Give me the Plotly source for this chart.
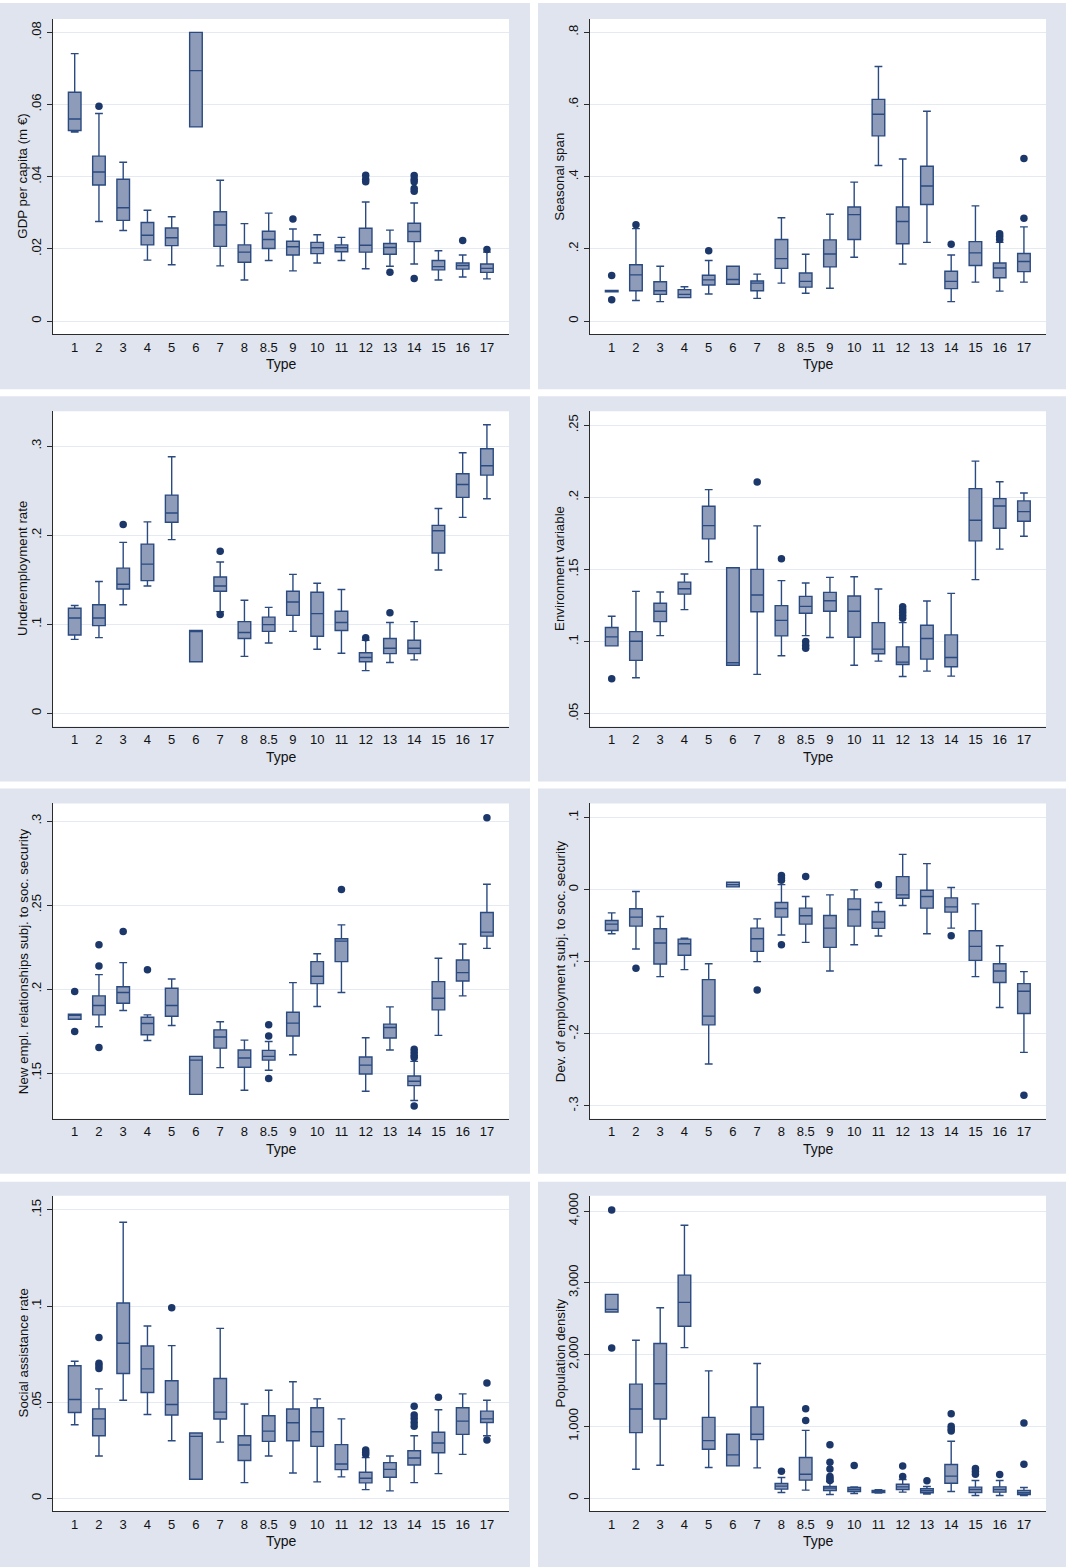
import plotly.graph_objects as go

# ---------------- data ----------------
types = ["1", "2", "3", "4", "5", "6", "7", "8", "8.5", "9",
         "10", "11", "12", "13", "14", "15", "16", "17"]

# GDP per capita (m €)
gdp_lo  = [0.0524, 0.0276, 0.0251, 0.0169, 0.0156, 0.0538, 0.0153, 0.0114, 0.0168, 0.0139, 0.0161, 0.0168, 0.0145, 0.0152, 0.0158, 0.0114, 0.0122, 0.0117]
gdp_q1  = [0.0528, 0.0377, 0.0279, 0.0211, 0.0209, 0.0538, 0.0207, 0.0163, 0.0201, 0.0183, 0.0187, 0.0192, 0.0191, 0.0185, 0.0220, 0.0142, 0.0144, 0.0135]
gdp_med = [0.0560, 0.0413, 0.0314, 0.0238, 0.0231, 0.0694, 0.0266, 0.0191, 0.0226, 0.0206, 0.0203, 0.0203, 0.0210, 0.0204, 0.0248, 0.0151, 0.0154, 0.0146]
gdp_q3  = [0.0634, 0.0457, 0.0393, 0.0273, 0.0258, 0.0800, 0.0303, 0.0211, 0.0249, 0.0221, 0.0218, 0.0211, 0.0257, 0.0215, 0.0271, 0.0168, 0.0161, 0.0158]
gdp_hi  = [0.0741, 0.0575, 0.0440, 0.0307, 0.0289, 0.0800, 0.0390, 0.0270, 0.0299, 0.0255, 0.0239, 0.0232, 0.0330, 0.0252, 0.0327, 0.0195, 0.0183, 0.0191]
gdp_out = [[], [0.0595], [], [], [], [], [], [], [], [0.0283], [], [],
           [0.0404, 0.0393, 0.0386], [0.0135],
           [0.0403, 0.0393, 0.0386, 0.0367, 0.0360, 0.0118], [], [0.0223], [0.0198]]

# Seasonal span
sea_lo  = [0.081, 0.057, 0.054, 0.065, 0.075, 0.102, 0.063, 0.105, 0.077, 0.091, 0.177, 0.431, 0.158, 0.218, 0.054, 0.108, 0.083, 0.108]
sea_q1  = [0.081, 0.084, 0.074, 0.065, 0.100, 0.102, 0.084, 0.146, 0.094, 0.150, 0.226, 0.513, 0.214, 0.323, 0.090, 0.154, 0.120, 0.137]
sea_med = [0.083, 0.128, 0.084, 0.074, 0.114, 0.115, 0.105, 0.173, 0.110, 0.186, 0.295, 0.573, 0.276, 0.374, 0.110, 0.189, 0.147, 0.165]
sea_q3  = [0.085, 0.156, 0.109, 0.087, 0.127, 0.152, 0.111, 0.226, 0.133, 0.225, 0.316, 0.614, 0.316, 0.429, 0.138, 0.220, 0.161, 0.187]
sea_hi  = [0.085, 0.256, 0.152, 0.095, 0.168, 0.152, 0.130, 0.286, 0.185, 0.296, 0.385, 0.705, 0.449, 0.581, 0.183, 0.319, 0.218, 0.261]
sea_out = [[0.126, 0.059], [0.267], [], [], [0.195], [], [], [], [], [], [], [], [], [],
           [0.213], [], [0.242, 0.235, 0.226], [0.450, 0.285]]

# Underemployment rate
und_lo  = [0.083, 0.085, 0.122, 0.143, 0.195, 0.058, 0.114, 0.064, 0.079, 0.092, 0.072, 0.0675, 0.048, 0.057, 0.060, 0.161, 0.220, 0.241]
und_q1  = [0.088, 0.0985, 0.1396, 0.149, 0.2146, 0.058, 0.137, 0.084, 0.092, 0.110, 0.0866, 0.093, 0.058, 0.067, 0.067, 0.180, 0.2425, 0.2675]
und_med = [0.107, 0.107, 0.145, 0.1675, 0.225, 0.092, 0.143, 0.0907, 0.0996, 0.125, 0.112, 0.102, 0.0627, 0.073, 0.073, 0.205, 0.257, 0.278]
und_q3  = [0.118, 0.122, 0.163, 0.190, 0.245, 0.093, 0.153, 0.103, 0.108, 0.137, 0.136, 0.1146, 0.068, 0.084, 0.082, 0.211, 0.269, 0.297]
und_hi  = [0.121, 0.148, 0.192, 0.215, 0.288, 0.093, 0.170, 0.127, 0.119, 0.156, 0.146, 0.139, 0.082, 0.102, 0.103, 0.230, 0.2925, 0.324]
und_out = [[], [], [0.212], [], [], [], [0.182, 0.111], [], [], [], [], [],
           [0.085], [0.113], [], [], [], []]

# Environment variable
env_lo  = [0.097, 0.0749, 0.1041, 0.1221, 0.1553, 0.0836, 0.0772, 0.0901, 0.1041, 0.1028, 0.0836, 0.0864, 0.0758, 0.0795, 0.076, 0.1429, 0.1641, 0.173]
env_q1  = [0.097, 0.0869, 0.1138, 0.1329, 0.1712, 0.0836, 0.1207, 0.1039, 0.1196, 0.121, 0.103, 0.0915, 0.0841, 0.0878, 0.0825, 0.1698, 0.1786, 0.1834]
env_med = [0.1032, 0.1002, 0.121, 0.1366, 0.1804, 0.0853, 0.1323, 0.1147, 0.1244, 0.1283, 0.121, 0.0947, 0.0857, 0.1021, 0.0889, 0.1841, 0.194, 0.1901]
env_q3  = [0.1097, 0.1069, 0.1265, 0.1412, 0.1938, 0.1512, 0.150, 0.1249, 0.1313, 0.1341, 0.1316, 0.1131, 0.0963, 0.1113, 0.1046, 0.206, 0.1991, 0.1975]
env_hi  = [0.1175, 0.1348, 0.1343, 0.1468, 0.2053, 0.1512, 0.1802, 0.1422, 0.1406, 0.1445, 0.1449, 0.1364, 0.1131, 0.1281, 0.1334, 0.2251, 0.2108, 0.203]
env_out = [[0.0742], [], [], [], [], [], [0.2106], [0.1574], [0.100, 0.0975, 0.0954], [], [], [],
           [0.1242, 0.1221, 0.1203, 0.1182, 0.1161], [], [], [], [], []]

# New empl. relationships subj. to soc. security
new_lo  = [0.182, 0.1775, 0.1872, 0.1694, 0.1783, 0.1373, 0.1532, 0.1397, 0.1516, 0.1609, 0.1896, 0.1979, 0.1391, 0.1637, 0.1336, 0.1724, 0.1959, 0.2242]
new_q1  = [0.182, 0.1846, 0.1915, 0.1728, 0.1838, 0.1373, 0.1648, 0.1534, 0.1577, 0.172, 0.2032, 0.2163, 0.1494, 0.1708, 0.1425, 0.1876, 0.2048, 0.2315]
new_med = [0.1845, 0.1902, 0.1979, 0.1795, 0.1902, 0.1577, 0.1714, 0.1589, 0.1599, 0.1797, 0.2076, 0.2285, 0.1547, 0.1771, 0.1451, 0.1945, 0.2098, 0.2339]
new_q3  = [0.185, 0.1959, 0.2014, 0.1832, 0.2005, 0.1599, 0.1757, 0.1637, 0.1635, 0.1862, 0.2163, 0.2299, 0.1595, 0.1791, 0.1482, 0.2044, 0.2173, 0.2456]
new_hi  = [0.185, 0.2086, 0.2157, 0.1846, 0.206, 0.1599, 0.1805, 0.1696, 0.1688, 0.2038, 0.221, 0.2382, 0.171, 0.1894, 0.1569, 0.2183, 0.2268, 0.2624]
new_out = [[0.1985, 0.1747], [0.2264, 0.2137, 0.1652], [0.2343], [0.2115], [], [], [], [],
           [0.1787, 0.172, 0.1468], [], [], [0.2592], [], [],
           [0.1642, 0.1623, 0.1605, 0.1593, 0.1304], [], [], [0.302]]

# Dev. of employment subj. to soc. security
dev_lo  = [-0.0613, -0.0825, -0.1207, -0.1111, -0.2419, 0.0037, -0.1, -0.0631, -0.0733, -0.1129, -0.0765, -0.0645, -0.0221, -0.0613, -0.0535, -0.1207, -0.1636, -0.2258]
dev_q1  = [-0.0567, -0.0507, -0.1032, -0.0912, -0.1876, 0.0037, -0.0857, -0.0382, -0.0479, -0.0802, -0.0507, -0.0539, -0.012, -0.0258, -0.0313, -0.0982, -0.129, -0.1719]
dev_med = [-0.0479, -0.0382, -0.0742, -0.0751, -0.1756, 0.0069, -0.0682, -0.0263, -0.0364, -0.0535, -0.0276, -0.0452, -0.0074, -0.0097, -0.024, -0.0788, -0.1129, -0.141]
dev_q3  = [-0.0429, -0.0267, -0.0544, -0.0687, -0.1249, 0.0101, -0.0535, -0.018, -0.0258, -0.0359, -0.0129, -0.0304, 0.018, -0.0009, -0.0115, -0.0571, -0.1028, -0.1304]
dev_hi  = [-0.0323, -0.0028, -0.0373, -0.0673, -0.1028, 0.0101, -0.0406, 0.0069, -0.0097, -0.0074, -0.0005, -0.018, 0.0488, 0.0359, 0.0028, -0.0198, -0.0779, -0.1138]
dev_out = [[], [-0.1092], [], [], [], [], [-0.1392], [0.0194, 0.0161, 0.0129, -0.0765], [0.018],
           [], [], [0.0065], [], [], [-0.0641], [], [], [-0.2853]]

# Social assistance rate
soc_lo  = [0.0382, 0.022, 0.051, 0.0436, 0.0299, 0.0099, 0.0292, 0.0081, 0.022, 0.0131, 0.0085, 0.0111, 0.0045, 0.0038, 0.0081, 0.0128, 0.0228, 0.0325]
soc_q1  = [0.0446, 0.0325, 0.0649, 0.055, 0.0433, 0.0099, 0.0412, 0.0196, 0.0296, 0.0299, 0.027, 0.0149, 0.008, 0.0109, 0.0173, 0.0237, 0.0332, 0.0394]
soc_med = [0.0514, 0.0413, 0.0806, 0.0673, 0.0488, 0.0322, 0.0448, 0.0277, 0.0349, 0.0393, 0.0346, 0.0178, 0.0104, 0.015, 0.0209, 0.0287, 0.0401, 0.0413]
soc_q3  = [0.0689, 0.0465, 0.1016, 0.0792, 0.0611, 0.0339, 0.0623, 0.0325, 0.0429, 0.0464, 0.0471, 0.0279, 0.0135, 0.0185, 0.0247, 0.0343, 0.0471, 0.0453]
soc_hi  = [0.0713, 0.0569, 0.1436, 0.0896, 0.0794, 0.0339, 0.0884, 0.049, 0.0562, 0.0606, 0.0517, 0.0413, 0.0211, 0.022, 0.0325, 0.046, 0.0543, 0.051]
soc_out = [[], [0.0836, 0.0702, 0.0689, 0.0675], [], [], [0.0991], [], [], [], [], [], [], [],
           [0.0251, 0.0239, 0.0227], [], [0.0479, 0.0433, 0.0415, 0.0394, 0.0374], [0.0526], [],
           [0.0599, 0.0303]]

# Population density
pop_lo  = [2593, 403, 458, 2097, 426, 449, 421, 79, 111, 51, 65, 69, 83, 56, 93, 37, 37, 37]
pop_q1  = [2593, 912, 1102, 2394, 681, 449, 815, 125, 250, 106, 93, 79, 120, 74, 208, 79, 83, 51]
pop_med = [2630, 1241, 1593, 2727, 801, 602, 889, 167, 333, 139, 120, 93, 157, 102, 306, 120, 120, 74]
pop_q3  = [2838, 1588, 2153, 3106, 1125, 889, 1269, 204, 565, 162, 148, 106, 194, 130, 468, 153, 157, 106]
pop_hi  = [2838, 2199, 2653, 3801, 1773, 889, 1875, 287, 944, 231, 157, 116, 259, 162, 792, 245, 245, 148]
pop_out = [[4014, 2093], [], [], [], [], [], [], [375], [1245, 1083],
           [745, 500, 407, 301, 269, 245], [454], [], [449, 301], [241],
           [1176, 1000, 963, 935], [412, 370, 333], [329], [1046, 472]]

# axis titles, tick values and tick labels
y_titles = ["GDP per capita (m €)", "Seasonal span", "Underemployment rate",
            "Environment variable", "New empl. relationships subj. to soc. security",
            "Dev. of employment subj. to soc. security", "Social assistance rate",
            "Population density"]
x_title = "Type"
gdp_ticks = [0, 0.02, 0.04, 0.06, 0.08];   gdp_labels = ["0", ".02", ".04", ".06", ".08"]
sea_ticks = [0, 0.2, 0.4, 0.6, 0.8];       sea_labels = ["0", ".2", ".4", ".6", ".8"]
und_ticks = [0, 0.1, 0.2, 0.3];            und_labels = ["0", ".1", ".2", ".3"]
env_ticks = [0.05, 0.1, 0.15, 0.2, 0.25];  env_labels = [".05", ".1", ".15", ".2", ".25"]
new_ticks = [0.15, 0.2, 0.25, 0.3];        new_labels = [".15", ".2", ".25", ".3"]
dev_ticks = [-0.3, -0.2, -0.1, 0, 0.1];    dev_labels = ["-.3", "-.2", "-.1", "0", ".1"]
soc_ticks = [0, 0.05, 0.1, 0.15];          soc_labels = ["0", ".05", ".1", ".15"]
pop_ticks = [0, 1000, 2000, 3000, 4000];   pop_labels = ["0", "1,000", "2,000", "3,000", "4,000"]

# ---------------- styling / layout ----------------
FONT = "Liberation Sans, Arial, sans-serif"
PANEL_BG = "#DFE4EF"
GRID = "#E4E9F2"
AXIS = "#2b2b2b"
BOX_FILL = "#8E9CB9"
BOX_LINE = "#2A4A80"
DOT = "#1C3769"

W, H = 1066, 1567
def fx(p):
    return p / W
def fy(p):
    return 1 - p / H

col_px = [(53, 509), (590, 1046)]
row_top = [16, 409, 802, 1195]
plot_h = 316
bg_cols = [(0, 530), (538, 1066)]
bg_rows = [(0, 387), (394, 780), (787, 1173), (1181, 1567)]

panels = [
    (gdp_lo, gdp_q1, gdp_med, gdp_q3, gdp_hi, gdp_out, gdp_ticks, gdp_labels, [-0.00368, 0.0837]),
    (sea_lo, sea_q1, sea_med, sea_q3, sea_hi, sea_out, sea_ticks, sea_labels, [-0.0368, 0.8368]),
    (und_lo, und_q1, und_med, und_q3, und_hi, und_out, und_ticks, und_labels, [-0.0149, 0.3392]),
    (env_lo, env_q1, env_med, env_q3, env_hi, env_out, env_ticks, env_labels, [0.041, 0.2597]),
    (new_lo, new_q1, new_med, new_q3, new_hi, new_out, new_ticks, new_labels, [0.1227, 0.3105]),
    (dev_lo, dev_q1, dev_med, dev_q3, dev_hi, dev_out, dev_ticks, dev_labels, [-0.318, 0.1194]),
    (soc_lo, soc_q1, soc_med, soc_q3, soc_hi, soc_out, soc_ticks, soc_labels, [-0.0067, 0.1574]),
    (pop_lo, pop_q1, pop_med, pop_q3, pop_hi, pop_out, pop_ticks, pop_labels, [-181, 4213]),
]

fig = go.Figure()
layout = dict(width=W, height=H, margin=dict(l=0, r=0, t=0, b=0),
              paper_bgcolor="white", plot_bgcolor="rgba(0,0,0,0)",
              showlegend=False, font=dict(family=FONT, color="#111"),
              shapes=[], annotations=[])

for i, (lo, q1, med, q3, hi, out, tv, tt, yr) in enumerate(panels):
    r, c = divmod(i, 2)
    n = "" if i == 0 else str(i + 1)
    xa, ya = "x" + n, "y" + n
    x0, x1 = col_px[c]
    yt = row_top[r]
    yb = yt + plot_h

    # panel background + white plot region
    layout["shapes"].append(dict(type="rect", xref="paper", yref="paper", layer="below",
                                 x0=fx(bg_cols[c][0]), x1=fx(bg_cols[c][1]),
                                 y0=fy(bg_rows[r][1]), y1=fy(bg_rows[r][0]),
                                 fillcolor=PANEL_BG, line=dict(width=0)))
    layout["shapes"].append(dict(type="rect", xref="paper", yref="paper", layer="below",
                                 x0=fx(x0), x1=fx(x1), y0=fy(yb), y1=fy(yt),
                                 fillcolor="white", line=dict(width=0)))

    fig.add_trace(go.Box(x=types, q1=q1, median=med, q3=q3, lowerfence=lo, upperfence=hi,
                         width=0.52, whiskerwidth=0.62, boxpoints=False,
                         fillcolor=BOX_FILL, line=dict(color=BOX_LINE, width=1.4),
                         xaxis=xa, yaxis=ya, hoverinfo="skip"))
    ox, oy = [], []
    for t, vals in zip(types, out):
        for v in vals:
            ox.append(t)
            oy.append(v)
    fig.add_trace(go.Scatter(x=ox, y=oy, mode="markers", xaxis=xa, yaxis=ya,
                             marker=dict(color=DOT, size=7.5, line=dict(width=0)),
                             hoverinfo="skip"))

    layout["xaxis" + n] = dict(domain=[fx(x0), fx(x1)], anchor=ya, type="category",
                               categoryorder="array", categoryarray=types,
                               range=[-0.895, 17.91], showline=True, linecolor=AXIS,
                               linewidth=1, ticks="", showgrid=False, zeroline=False,
                               tickfont=dict(size=13, family=FONT, color="#111"),
                               ticklabelstandoff=1, fixedrange=True)
    layout["yaxis" + n] = dict(domain=[fy(yb), fy(yt)], anchor=xa, range=yr,
                               tickvals=tv, ticktext=tt, tickangle=-90,
                               ticks="outside", ticklen=5, tickcolor=AXIS, tickwidth=1,
                               showline=True, linecolor=AXIS, linewidth=1,
                               showgrid=True, gridcolor=GRID, gridwidth=1, zeroline=False,
                               tickfont=dict(size=13, family=FONT, color="#111"),
                               ticklabelstandoff=1, fixedrange=True)

    layout["annotations"].append(dict(text=y_titles[i], xref="paper", yref="paper",
                                      x=fx(x0 - 30), y=fy(yt + plot_h / 2), textangle=-90,
                                      xanchor="center", yanchor="middle", showarrow=False,
                                      font=dict(size=13.3, family=FONT, color="#111")))
    layout["annotations"].append(dict(text=x_title, xref="paper", yref="paper",
                                      x=fx((x0 + x1) / 2), y=fy(yt + 346),
                                      xanchor="center", yanchor="middle", showarrow=False,
                                      font=dict(size=14, family=FONT, color="#111")))

fig.update_layout(**layout)
fig.write_html("out.html", config={"displayModeBar": False},
               post_script="document.body.style.margin='0';document.body.style.overflow='hidden';")
